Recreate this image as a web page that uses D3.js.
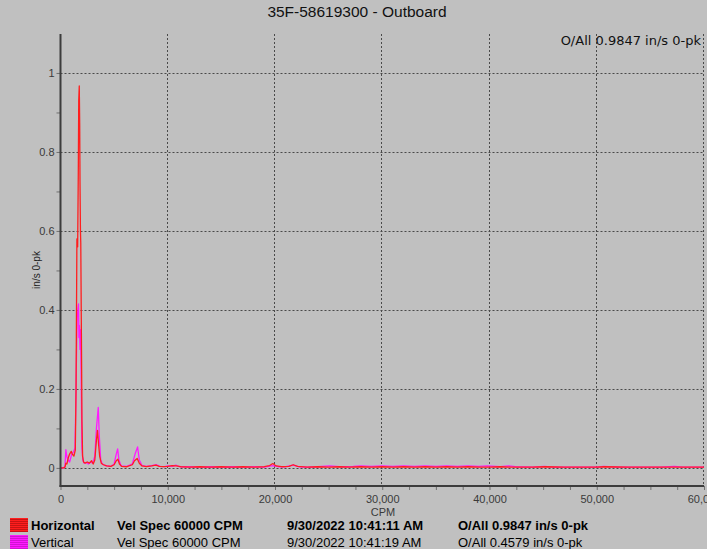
<!DOCTYPE html>
<html>
<head>
<meta charset="utf-8">
<script src="https://cdn.jsdelivr.net/npm/d3@7"></script>
<style>
  body { margin: 0; background: #c0c0c0; }
  svg { display: block; font-family: "Liberation Sans", Arial, sans-serif; }
</style>
</head>
<body>
<div id="chart"></div>
<script>
// spectrum data [CPM, in/s 0-pk]
const horizontal = [
  [0,0],[300,0],[420,0.002],[500,0.012],[600,0.01],[720,0.025],[850,0.035],[1000,0.042],
  [1100,0.035],[1250,0.03],[1380,0.045],[1450,0.2],[1530,0.58],[1600,0.56],[1660,0.75],
  [1700,0.93],[1750,0.967],[1790,0.87],[1820,0.72],[1860,0.6],[1890,0.57],[1940,0.375],
  [1970,0.25],[2000,0.12],[2060,0.03],[2150,0.015],[2300,0.012],[2500,0.015],[2700,0.012],
  [2900,0.018],[3050,0.01],[3200,0.02],[3350,0.07],[3450,0.095],[3550,0.06],[3650,0.03],
  [3800,0.012],[4000,0.008],[4300,0.005],[4700,0.004],[5000,0.008],[5200,0.018],[5350,0.022],
  [5500,0.01],[5700,0.004],[6200,0.003],[6700,0.008],[6900,0.018],[7150,0.024],[7350,0.012],
  [7600,0.005],[8000,0.003],[8500,0.005],[8900,0.007],[9200,0.004],[9600,0.003],[10000,0.004],
  [10400,0.006],[10800,0.005],[11200,0.003],[12000,0.002],[13000,0.003],[14000,0.002],
  [15000,0.003],[16000,0.002],[17000,0.003],[18000,0.002],[19000,0.003],[19500,0.006],
  [19800,0.011],[20100,0.005],[20600,0.003],[21300,0.004],[21700,0.008],[22100,0.004],
  [23000,0.002],[24000,0.003],[25000,0.002],[26000,0.003],[27000,0.002],[28000,0.003],
  [29000,0.002],[30000,0.003],[31000,0.002],[32000,0.003],[33000,0.002],[34000,0.003],
  [35000,0.002],[36000,0.003],[37000,0.002],[38000,0.003],[39000,0.002],[40000,0.002],
  [41000,0.003],[42000,0.002],[44000,0.002],[45200,0.003],[47000,0.002],[50000,0.002],
  [50700,0.003],[53000,0.002],[56000,0.002],[57300,0.002],[60000,0.002]
];
const vertical = [
  [0,0],[300,0],[420,0.005],[500,0.046],[580,0.03],[700,0.02],[850,0.015],[950,0.025],
  [1050,0.035],[1200,0.04],[1350,0.05],[1420,0.15],[1500,0.3],[1560,0.38],[1620,0.4],
  [1680,0.415],[1720,0.33],[1770,0.36],[1820,0.3],[1880,0.35],[1940,0.2],[2000,0.05],
  [2080,0.02],[2200,0.012],[2400,0.014],[2600,0.01],[2800,0.015],[3000,0.012],[3200,0.03],
  [3350,0.1],[3520,0.153],[3620,0.08],[3750,0.02],[3900,0.01],[4200,0.006],[4700,0.004],
  [5000,0.01],[5200,0.035],[5330,0.048],[5450,0.02],[5650,0.005],[6200,0.004],[6700,0.01],
  [6950,0.035],[7190,0.053],[7350,0.02],[7600,0.006],[8000,0.004],[8500,0.006],[8950,0.008],
  [9300,0.004],[9700,0.003],[10000,0.005],[10400,0.004],[10750,0.007],[11100,0.003],
  [12000,0.003],[13000,0.002],[14000,0.003],[15000,0.002],[16000,0.003],[17000,0.002],
  [18000,0.003],[19000,0.002],[19800,0.006],[20300,0.003],[21000,0.003],[21700,0.007],
  [22200,0.003],[23000,0.002],[24000,0.003],[25100,0.005],[26000,0.003],[27300,0.004],
  [28000,0.005],[29000,0.004],[30000,0.005],[31000,0.004],[32000,0.005],[33000,0.004],
  [34000,0.005],[35000,0.004],[36000,0.005],[37000,0.004],[38000,0.005],[39000,0.004],
  [39800,0.005],[41000,0.003],[41800,0.005],[42400,0.003],[44000,0.002],[45150,0.004],
  [46000,0.002],[50000,0.002],[50650,0.004],[52000,0.002],[56000,0.002],[57250,0.004],
  [58000,0.002],[60000,0.002]
];

const xMajor = [0, 10000, 20000, 30000, 40000, 50000, 60000];
const yMajor = [0, 0.2, 0.4, 0.6, 0.8, 1];

const legendRows = [
  ["Horizontal", "Vel Spec 60000 CPM", "9/30/2022 10:41:11 AM", "O/All 0.9847 in/s 0-pk"],
  ["Vertical", "Vel Spec 60000 CPM", "9/30/2022 10:41:19 AM", "O/All 0.4579 in/s 0-pk"]
];
const seriesColors = ["#ff1e1e", "#ff1aff"];

const W = 707, H = 549;
const plot = { left: 60.5, right: 704, top: 34, bottom: 486 };

const svg = d3.select("#chart").append("svg")
  .attr("width", W).attr("height", H);

svg.append("rect").attr("width", W).attr("height", H).attr("fill", "#c0c0c0");

const x = d3.scaleLinear().domain([0, 60000]).range([plot.left, plot.right]);
const y = d3.scaleLinear().domain([-0.0458, 1.0987]).range([plot.bottom, plot.top]);

// grid
const grid = svg.append("g").attr("stroke", "#4a4a4a").attr("stroke-width", 1)
  .attr("stroke-dasharray", "2,2");
grid.selectAll(".vg").data(xMajor.slice(1)).enter().append("line")
  .attr("x1", d => Math.round(x(d)) - 0.5).attr("x2", d => Math.round(x(d)) - 0.5)
  .attr("y1", plot.top).attr("y2", plot.bottom);
grid.selectAll(".hg").data(yMajor).enter().append("line")
  .attr("x1", plot.left).attr("x2", plot.right)
  .attr("y1", d => Math.round(y(d)) + 0.5).attr("y2", d => Math.round(y(d)) + 0.5);

// spectra
const line = d3.line().x(d => x(d[0])).y(d => y(d[1]));
svg.append("clipPath").attr("id", "clip").append("rect")
  .attr("x", plot.left).attr("y", plot.top)
  .attr("width", plot.right - plot.left).attr("height", plot.bottom - plot.top);
[vertical, horizontal].forEach((s, i) => {
  svg.append("path").datum(s)
    .attr("clip-path", "url(#clip)")
    .attr("fill", "none")
    .attr("stroke", i === 0 ? seriesColors[1] : seriesColors[0])
    .attr("stroke-width", 1.3)
    .attr("stroke-linejoin", "round")
    .attr("d", line);
});

// axes
const xAxis = svg.append("g").attr("transform", `translate(0,${plot.bottom})`)
  .call(d3.axisBottom(x).tickValues(d3.range(0, 60001, 2500)).tickSize(4)
    .tickFormat(d => d % 10000 === 0 ? d3.format(",")(d) : ""));
const yAxis = svg.append("g").attr("transform", `translate(${plot.left},0)`)
  .call(d3.axisLeft(y).tickValues(d3.range(0, 11).map(d => d / 10)).tickSize(4)
    .tickFormat(d => Math.round(d * 10) % 2 === 0 ? d3.format("")(+d.toFixed(1)) : ""));
[xAxis, yAxis].forEach(a => {
  a.select(".domain").remove();
  a.selectAll(".tick line").attr("stroke", "#707070");
  a.selectAll("text").attr("fill", "#3a3a3a")
    .style("font-family", "Liberation Sans, Arial, sans-serif").style("font-size", "11px");
});
xAxis.selectAll("text").attr("dy", "0.95em");
yAxis.selectAll("text").attr("x", -6);

svg.append("line").attr("x1", plot.left).attr("x2", plot.left)
  .attr("y1", plot.top).attr("y2", plot.bottom + 1)
  .attr("stroke", "#3c3c3c").attr("stroke-width", 2);
svg.append("line").attr("x1", plot.left - 1).attr("x2", plot.right)
  .attr("y1", plot.bottom).attr("y2", plot.bottom)
  .attr("stroke", "#3c3c3c").attr("stroke-width", 2);

// titles
svg.append("text").attr("x", 357).attr("y", 17).attr("text-anchor", "middle")
  .style("font-size", "15.5px").attr("fill", "#111").text("35F-58619300 - Outboard");
svg.append("text").attr("x", 701).attr("y", 45).attr("text-anchor", "end")
  .style("font-family", "DejaVu Sans, Verdana, sans-serif").style("font-size", "13px")
  .attr("fill", "#111").text("O/All 0.9847 in/s 0-pk");
svg.append("text").attr("transform", "translate(40,270) rotate(-90)")
  .attr("text-anchor", "middle").style("font-size", "10px").attr("fill", "#222")
  .text("in/s 0-pk");
svg.append("text").attr("x", 383).attr("y", 516).attr("text-anchor", "middle")
  .style("font-size", "11px").attr("fill", "#3a3a3a").text("CPM");

// legend
const colX = [31, 117, 287, 458];
legendRows.forEach((row, i) => {
  const cy = 525 + i * 17;
  const sw = svg.append("g").attr("transform", `translate(10,${cy - 7})`);
  sw.append("rect").attr("width", 18).attr("height", 14)
    .attr("fill", seriesColors[i]);
  sw.selectAll("line").data(d3.range(1, 14, 2)).enter().append("line")
    .attr("x1", 0).attr("x2", 18).attr("y1", d => d + 0.5).attr("y2", d => d + 0.5)
    .attr("stroke", i === 0 ? "#b01010" : "#c010c0").attr("stroke-width", 1)
    .attr("opacity", 0.7);
  row.forEach((t, j) => {
    svg.append("text").attr("x", colX[j]).attr("y", cy + 5)
      .style("font-size", "13px").style("font-weight", i === 0 ? "bold" : "normal")
      .attr("fill", "#000").text(t);
  });
});
</script>
</body>
</html>
